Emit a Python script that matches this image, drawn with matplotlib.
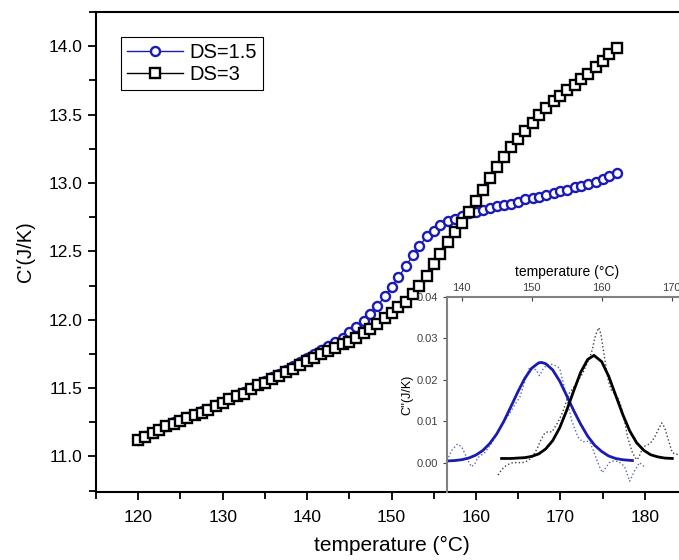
import matplotlib
matplotlib.use("Agg")
import matplotlib.pyplot as plt
from matplotlib.ticker import MultipleLocator, FormatStrFormatter

plt.rcParams['font.family'] = ['Liberation Sans', 'DejaVu Sans']

# main curves: C' vs temperature
temperature = [120.0, 120.8, 121.7, 122.5, 123.3, 124.2, 125.0, 125.8, 126.7, 127.5,
               128.3, 129.2, 130.0, 130.8, 131.7, 132.5, 133.3, 134.2, 135.0, 135.8,
               136.7, 137.5, 138.3, 139.2, 140.0, 140.8, 141.7, 142.5, 143.3, 144.2,
               145.0, 145.8, 146.7, 147.5, 148.3, 149.2, 150.0, 150.8, 151.7, 152.5,
               153.3, 154.2, 155.0, 155.8, 156.7, 157.5, 158.3, 159.2, 160.0, 160.8,
               161.7, 162.5, 163.3, 164.2, 165.0, 165.8, 166.7, 167.5, 168.3, 169.2,
               170.0, 170.8, 171.7, 172.5, 173.3, 174.2, 175.0, 175.8, 176.7]

c_ds15 = [11.12, 11.15, 11.17, 11.20, 11.22, 11.25, 11.27, 11.29, 11.31, 11.33,
          11.35, 11.38, 11.40, 11.43, 11.45, 11.47, 11.50, 11.53, 11.55, 11.58,
          11.60, 11.63, 11.66, 11.69, 11.72, 11.75, 11.78, 11.81, 11.84, 11.87,
          11.91, 11.95, 11.99, 12.04, 12.10, 12.17, 12.24, 12.31, 12.39, 12.47,
          12.54, 12.61, 12.65, 12.69, 12.72, 12.74, 12.76, 12.78, 12.79, 12.80,
          12.82, 12.83, 12.84, 12.85, 12.86, 12.88, 12.89, 12.90, 12.91, 12.93,
          12.94, 12.95, 12.97, 12.98, 12.99, 13.01, 13.03, 13.05, 13.07]

c_ds3 = [11.12, 11.14, 11.17, 11.19, 11.22, 11.24, 11.26, 11.28, 11.30, 11.32,
         11.34, 11.37, 11.39, 11.42, 11.44, 11.46, 11.49, 11.52, 11.54, 11.57,
         11.59, 11.62, 11.64, 11.67, 11.70, 11.72, 11.75, 11.77, 11.79, 11.82,
         11.84, 11.87, 11.90, 11.93, 11.97, 12.01, 12.05, 12.09, 12.13, 12.19,
         12.25, 12.32, 12.41, 12.48, 12.57, 12.64, 12.71, 12.79, 12.87, 12.95,
         13.04, 13.12, 13.19, 13.26, 13.32, 13.38, 13.44, 13.50, 13.55, 13.60,
         13.64, 13.68, 13.72, 13.76, 13.80, 13.85, 13.89, 13.94, 13.99]

# inset: C'' raw (dotted) and gaussian fits (solid)
raw15_t = [137.9, 138.6, 139.4, 140.0, 140.4, 140.9, 141.4, 141.9, 142.3, 142.8,
           143.3, 144.2, 145.2, 146.0, 146.9, 147.6, 148.3, 149.0, 149.7, 150.2,
           150.7, 151.1, 151.6, 152.1, 152.7, 153.3, 154.0, 154.7, 155.2, 155.7,
           156.2, 156.6, 157.3, 157.8, 158.3, 158.8, 159.3, 159.7, 160.1, 160.6,
           161.1, 161.7, 162.3, 162.8, 163.3, 164.0, 164.7, 165.4, 166.1]
raw15_v = [0.0005, 0.0030, 0.0045, 0.0038, 0.0024, 0.0005, -0.0010, -0.0002, 0.0012, 0.0018,
           0.0024, 0.0045, 0.0074, 0.0098, 0.0120, 0.0140, 0.0158, 0.0195, 0.0230, 0.0228,
           0.0223, 0.0210, 0.0225, 0.0235, 0.0238, 0.0235, 0.0228, 0.0180, 0.0140, 0.0103,
           0.0080, 0.0062, 0.0050, 0.0052, 0.0050, 0.0030, 0.0007, -0.0010, -0.0024, -0.0012,
           0.0000, 0.0004, 0.0003, -0.0002, -0.0010, -0.0045, -0.0020, 0.0000, -0.0010]

raw3_t = [145.2, 145.6, 146.1, 146.7, 147.3, 148.0, 148.7, 149.4, 150.0, 150.5,
          150.9, 151.4, 151.9, 152.4, 152.9, 153.3, 153.7, 154.4, 154.9, 155.4,
          155.9, 156.4, 156.9, 157.3, 157.8, 158.3, 158.7, 159.0, 159.3, 159.6,
          159.9, 160.1, 160.4, 160.7, 161.0, 161.4, 161.9, 162.3, 162.7, 163.0,
          163.4, 163.7, 164.1, 164.4, 164.8, 165.1, 165.5, 165.9, 166.6, 167.1,
          167.6, 168.1, 168.6, 169.0, 169.4, 169.8, 170.1, 170.6, 171.0]
raw3_v = [-0.0030, -0.0020, -0.0010, -0.0004, 0.0000, 0.0000, 0.0000, 0.0004, 0.0012, 0.0025,
          0.0038, 0.0058, 0.0072, 0.0075, 0.0074, 0.0085, 0.0096, 0.0120, 0.0145, 0.0168,
          0.0180, 0.0190, 0.0205, 0.0216, 0.0235, 0.0254, 0.0275, 0.0300, 0.0315, 0.0326,
          0.0310, 0.0288, 0.0255, 0.0223, 0.0195, 0.0175, 0.0165, 0.0158, 0.0140, 0.0120,
          0.0090, 0.0062, 0.0040, 0.0024, 0.0012, 0.0007, 0.0020, 0.0038, 0.0043, 0.0050,
          0.0062, 0.0080, 0.0096, 0.0085, 0.0062, 0.0040, 0.0024, 0.0020, 0.0020]

fit15_t = [137.9, 139.0, 140.0, 141.0, 142.0, 143.0, 144.0, 145.0, 146.0, 147.0,
           148.0, 149.0, 150.0, 151.0, 151.4, 152.0, 153.0, 154.0, 155.0, 156.0,
           157.0, 158.0, 159.0, 160.0, 161.0, 162.0, 163.0, 164.4]
fit15_v = [0.0004, 0.0005, 0.0007, 0.0011, 0.0018, 0.0029, 0.0046, 0.0069, 0.0099, 0.0134,
           0.0170, 0.0203, 0.0228, 0.0241, 0.0242, 0.0239, 0.0224, 0.0197, 0.0162, 0.0126,
           0.0093, 0.0064, 0.0042, 0.0027, 0.0016, 0.0010, 0.0007, 0.0005]

fit3_t = [145.7, 147.0, 148.0, 149.0, 150.0, 151.0, 152.0, 153.0, 154.0, 155.0,
          156.0, 157.0, 158.0, 158.9, 160.0, 161.0, 162.0, 163.0, 164.0, 165.0,
          166.0, 167.0, 168.0, 169.0, 170.1]
fit3_v = [0.0010, 0.0010, 0.0011, 0.0012, 0.0015, 0.0021, 0.0033, 0.0053, 0.0084, 0.0126,
          0.0173, 0.0218, 0.0249, 0.0259, 0.0244, 0.0209, 0.0163, 0.0117, 0.0077, 0.0048,
          0.0030, 0.0019, 0.0014, 0.0011, 0.0010]

blue = '#1a1ab4'

fig = plt.figure(figsize=(6.79, 5.6), dpi=100)
ax = fig.add_axes([0.1414, 0.1214, 0.8704, 0.857])

ax.plot(temperature, c_ds15, '-o', color=blue, mfc='white', mec=blue,
        ms=6.5, mew=1.7, lw=1, label='DS=1.5')
ax.plot(temperature, c_ds3, '-s', color='black', mfc='white', mec='black',
        ms=6.5, mew=1.7, lw=1, label='DS=3')

ax.set_xlim(115, 185)
ax.set_ylim(10.74, 14.25)
ax.xaxis.set_major_locator(MultipleLocator(10))
ax.xaxis.set_minor_locator(MultipleLocator(5))
ax.yaxis.set_major_locator(MultipleLocator(0.5))
ax.yaxis.set_minor_locator(MultipleLocator(0.25))
ax.yaxis.set_major_formatter(FormatStrFormatter('%.1f'))
ax.tick_params(which='both', direction='out', labelsize=12.5, width=1.3)
ax.tick_params(which='major', length=6)
ax.tick_params(which='minor', length=5)
ax.tick_params(axis='x', pad=7)
for s in ax.spines.values():
    s.set_linewidth(1.5)

ax.set_xlabel('temperature (°C)', fontsize=15, labelpad=8)
ax.set_ylabel("C'(J/K)", fontsize=14.5, labelpad=10)

leg = ax.legend(loc='upper left', bbox_to_anchor=(0.042, 0.948), borderaxespad=0,
                fontsize=14.5, handlelength=2.8, frameon=True, fancybox=False,
                framealpha=1, borderpad=0.3, labelspacing=0.15, handletextpad=0.3)
leg.get_frame().set_edgecolor('black')
leg.get_frame().set_linewidth(0.8)

# inset
ins = fig.add_axes([0.6583, 0.1214, 0.3535, 0.3482])
ins.patch.set_alpha(0)
ins.plot(raw15_t, raw15_v, ':', color='#5a6ab8', lw=1)
ins.plot(raw3_t, raw3_v, ':', color='#404040', lw=1)
ins.plot(fit15_t, fit15_v, '-', color=blue, lw=2)
ins.plot(fit3_t, fit3_v, '-', color='black', lw=2)
ins.set_xlim(137.9, 172.2)
ins.set_ylim(-0.0071, 0.04)
ins.xaxis.set_ticks_position('top')
ins.xaxis.set_label_position('top')
ins.set_xticks([140, 150, 160, 170])
ins.set_yticks([0.0, 0.01, 0.02, 0.03, 0.04])
ins.yaxis.set_major_formatter(FormatStrFormatter('%.2f'))
ins.tick_params(axis='x', direction='in', labelsize=8, colors='#404040', length=3, pad=3)
ins.tick_params(axis='y', direction='out', labelsize=8, colors='#404040', length=3)
ins.spines['bottom'].set_visible(False)
ins.spines['right'].set_visible(False)
for k in ['left', 'top']:
    ins.spines[k].set_color('#808080')
    ins.spines[k].set_linewidth(1.5)
ins.set_xlabel('temperature (°C)', fontsize=10, labelpad=5)
ins.set_ylabel("C''(J/K)", fontsize=9, labelpad=2)

fig.savefig('out.png', dpi=100)
